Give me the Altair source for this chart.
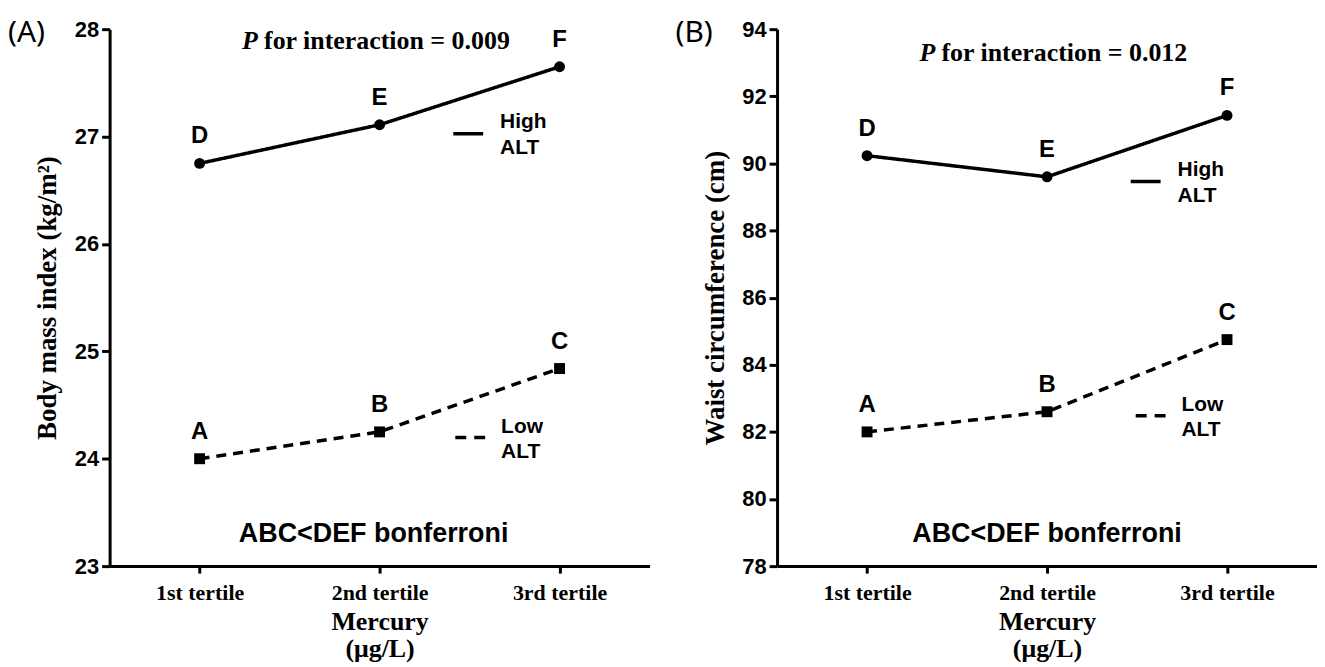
import altair as alt
import pandas as pd

tertiles = ["1st tertile", "2nd tertile", "3rd tertile"]
groups = ["High", "Low"]
high_letters = ["D", "E", "F"]
low_letters = ["A", "B", "C"]

bmi_high = [26.75, 27.11, 27.65]
bmi_low = [24.00, 24.25, 24.84]
wc_high = [90.23, 89.60, 91.43]
wc_low = [82.00, 82.60, 84.75]

bmi_ticks = [23, 24, 25, 26, 27, 28]
wc_ticks = [78, 80, 82, 84, 86, 88, 90, 92, 94]

W = 542
H = 539
SANS = "Liberation Sans"
SERIF = "Liberation Serif"


def txt(s, x, y, **kw):
    return alt.Chart(pd.DataFrame({"t": [s]})).mark_text(**kw).encode(
        x=alt.value(x), y=alt.value(y), text="t:N"
    )


def rule(x1, x2, y, dash):
    return alt.Chart(pd.DataFrame({"t": [0]})).mark_rule(
        color="black", strokeWidth=3.5, strokeDash=dash
    ).encode(x=alt.value(x1), x2=alt.value(x2), y=alt.value(y))


def panel(high, low, ticks, ytitle, tag, ptext, pos):
    rows = []
    for i, t in enumerate(tertiles):
        rows.append({"tertile": t, "group": "High", "value": high[i], "letter": high_letters[i]})
    for i, t in enumerate(tertiles):
        rows.append({"tertile": t, "group": "Low", "value": low[i], "letter": low_letters[i]})
    df = pd.DataFrame(rows)

    x = alt.X(
        "tertile:N",
        sort=tertiles,
        scale=alt.Scale(type="point", padding=0.5),
        axis=alt.Axis(
            title=["Mercury", "(μg/L)"],
            titleFont=SERIF, titleFontSize=26, titleFontWeight="bold",
            titleLineHeight=27, titleColor="black", titlePadding=5,
            labelFont=SERIF, labelFontSize=22, labelFontWeight="bold",
            labelColor="black", labelAngle=0, labelPadding=10,
            domainColor="black", domainWidth=3, tickColor="black",
            tickWidth=3, tickSize=7, grid=False,
        ),
    )
    y = alt.Y(
        "value:Q",
        scale=alt.Scale(domain=[ticks[0], ticks[-1]], nice=False, zero=False),
        axis=alt.Axis(
            title=ytitle, values=ticks,
            titleFont=SERIF, titleFontSize=27, titleFontWeight="bold",
            titleColor="black", titleX=-62, titleY=H / 2, titleBaseline="middle",
            labelFont=SANS, labelFontSize=22, labelFontWeight="bold",
            labelColor="black", labelPadding=3,
            domainColor="black", domainWidth=3, tickColor="black",
            tickWidth=3, tickSize=8, grid=False,
        ),
    )
    base = alt.Chart(df).encode(x=x, y=y)
    lines = base.mark_line(color="black", strokeWidth=3.5, interpolate="linear").encode(
        strokeDash=alt.StrokeDash(
            "group:N", scale=alt.Scale(domain=groups, range=[[1, 0], [10, 7]]), legend=None
        ),
        detail="group:N",
    )
    points = base.mark_point(filled=True, color="black", size=120, opacity=1).encode(
        shape=alt.Shape(
            "group:N", scale=alt.Scale(domain=groups, range=["circle", "square"]), legend=None
        )
    )
    letters = base.mark_text(
        dy=-27, fontSize=24, fontWeight="bold", font=SANS, color="black"
    ).encode(text="letter:N")

    layers = [lines, points, letters]
    layers.append(txt(tag, -102, 4, font="Noto Sans", fontSize=30, align="left",
                      baseline="middle", color="black"))
    layers.append(txt("P", pos["px"], pos["py"], font=SERIF, fontSize=26, fontWeight="bold",
                      fontStyle="italic", align="left", baseline="middle", color="black"))
    layers.append(txt(ptext, pos["px"] + 22, pos["py"], font=SERIF, fontSize=26,
                      fontWeight="bold", align="left", baseline="middle", color="black"))
    layers.append(txt("ABC<DEF bonferroni", pos["bx"], 507, font=SANS, fontSize=27,
                      fontWeight="bold", align="center", baseline="middle", color="black"))
    # legend
    layers.append(rule(pos["hx"], pos["hx"] + 30, pos["hy"], [1, 0]))
    layers.append(txt("High", pos["hx"] + 47, pos["hy"] - 12, font=SANS, fontSize=21,
                      fontWeight="bold", align="left", baseline="middle", color="black"))
    layers.append(txt("ALT", pos["hx"] + 47, pos["hy"] + 14, font=SANS, fontSize=21,
                      fontWeight="bold", align="left", baseline="middle", color="black"))
    layers.append(rule(pos["lx"], pos["lx"] + 30, pos["ly"], [11, 8]))
    layers.append(txt("Low", pos["lx"] + 46, pos["ly"] - 11, font=SANS, fontSize=21,
                      fontWeight="bold", align="left", baseline="middle", color="black"))
    layers.append(txt("ALT", pos["lx"] + 46, pos["ly"] + 14, font=SANS, fontSize=21,
                      fontWeight="bold", align="left", baseline="middle", color="black"))

    return alt.layer(*layers).properties(width=W, height=H)


pa = panel(bmi_high, bmi_low, bmi_ticks, "Body mass index (kg/m²)", "(A)",
           "for interaction = 0.009",
           {"px": 133, "py": 12, "bx": 265, "hx": 345, "hy": 105, "lx": 347, "ly": 410})
pb = panel(wc_high, wc_low, wc_ticks, "Waist circumference (cm)", "(B)",
           "for interaction = 0.012",
           {"px": 143, "py": 24, "bx": 271, "hx": 355, "hy": 153, "lx": 360, "ly": 388})

chart = alt.hconcat(pa, pb, spacing=26).properties(
    padding={"left": 0, "top": 9, "right": 0, "bottom": 0}
).configure_view(stroke=None)

chart.save("out.html", embed_options={"renderer": "svg", "actions": False})
